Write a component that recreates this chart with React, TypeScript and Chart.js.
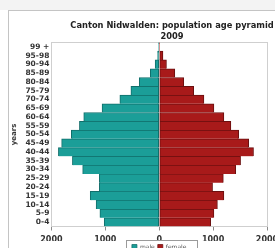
import { useEffect, useRef } from "react";
import { Chart, registerables } from "chart.js";
Chart.register(...registerables);

const ageGroups = ["0-4", "5-9", "10-14", "15-19", "20-24", "25-29", "30-34", "35-39", "40-44", "45-49", "50-54", "55-59", "60-64", "65-69", "70-74", "75-79", "80-84", "85-89", "90-94", "95-98", "99 +"];
const maleValues = [1020, 1100, 1170, 1280, 1110, 1110, 1420, 1610, 1870, 1810, 1630, 1480, 1400, 1060, 730, 525, 370, 165, 75, 30, 10];
const femaleValues = [955, 1015, 1080, 1200, 990, 1190, 1420, 1510, 1750, 1660, 1475, 1330, 1200, 1015, 830, 640, 455, 290, 135, 70, 8];
const seriesNames = ["male", "female"];
const titleLines = ["Canton Nidwalden: population age pyramid", "2009"];
const yAxisTitle = "years";
const xMin = -2000;
const xMax = 2000;
const xStep = 1000;

const FONT = "'DejaVu Sans', sans-serif";

const plotFrame = {
  id: "plotFrame",
  beforeDatasetsDraw(chart: any) {
    const { ctx, chartArea: a } = chart;
    ctx.save();
    ctx.strokeStyle = "#cfcfcf";
    ctx.lineWidth = 1;
    ctx.strokeRect(Math.round(a.left) + 0.5, Math.round(a.top) + 0.5, Math.round(a.right - a.left), Math.round(a.bottom - a.top));
    ctx.restore();
  },
};

const legendBox = {
  id: "legendBox",
  afterDraw(chart: any) {
    const lg = chart.legend;
    if (!lg || !lg.legendHitBoxes || !lg.legendHitBoxes.length) return;
    const hb = lg.legendHitBoxes;
    let l = Infinity, r = -Infinity, t = Infinity;
    hb.forEach((h: any) => {
      l = Math.min(l, h.left);
      r = Math.max(r, h.left + h.width);
      t = Math.min(t, h.top);
    });
    const { ctx } = chart;
    ctx.save();
    ctx.strokeStyle = "#9a9a9a";
    ctx.lineWidth = 1;
    ctx.strokeRect(Math.round(l - 6) + 0.5, Math.round(t - 4) + 0.5, Math.round(r - l + 16), 40);
    ctx.restore();
  },
};

export default function App() {
  const ref = useRef<HTMLCanvasElement | null>(null);
  useEffect(() => {
    if (!ref.current) return;
    const chart = new Chart(ref.current, {
      type: "bar",
      data: {
        labels: ageGroups,
        datasets: [
          {
            label: seriesNames[0],
            data: maleValues.map((v) => -v),
            backgroundColor: "#1b9e98",
            borderColor: "#116e6a",
            borderWidth: { top: 1, bottom: 0, left: 1, right: 1 },
            borderSkipped: false,
            barPercentage: 1,
            categoryPercentage: 1,
          },
          {
            label: seriesNames[1],
            data: femaleValues,
            backgroundColor: "#a81a1a",
            borderColor: "#6a0f0f",
            borderWidth: { top: 1, bottom: 0, left: 1, right: 1 },
            borderSkipped: false,
            barPercentage: 1,
            categoryPercentage: 1,
          },
        ],
      },
      options: {
        indexAxis: "y",
        responsive: false,
        animation: false,
        devicePixelRatio: 1,
        layout: { padding: { left: 8, right: 0, top: 0, bottom: 0 } },
        plugins: {
          title: {
            display: true,
            text: titleLines,
            color: "#222",
            font: { family: FONT, size: 8.3, weight: "bold", lineHeight: 1.35 },
            padding: { top: 20, bottom: 0 },
          },
          legend: {
            display: true,
            position: "bottom",
            fullSize: false,
            labels: {
              boxWidth: 5,
              boxHeight: 5,
              padding: 3,
              color: "#555",
              font: { family: FONT, size: 6 },
            },
          },
          tooltip: { enabled: false },
        },
        scales: {
          x: {
            type: "linear",
            stacked: true,
            min: xMin,
            max: xMax,
            ticks: {
              stepSize: xStep,
              padding: 9.5,
              color: "#333",
              font: { family: FONT, size: 8, weight: "bold", lineHeight: 0.1 },
              callback: (v: any) => String(Math.abs(Number(v))),
            },
            grid: { display: true, drawOnChartArea: false, drawTicks: true, tickLength: 4, color: "#8a8a8a" },
            border: { display: true, color: "#8a8a8a" },
            afterFit: (scale: any) => {
              scale.height = 14.5;
            },
          },
          y: {
            type: "category",
            stacked: true,
            reverse: true,
            ticks: {
              autoSkip: false,
              padding: 2,
              color: "#333",
              font: { family: FONT, size: 7.5, weight: "bold" },
            },
            grid: { display: false, drawTicks: false },
            border: { display: true, color: "#cfcfcf" },
            title: {
              display: true,
              text: yAxisTitle,
              color: "#333",
              font: { family: FONT, size: 7, weight: "bold" },
              padding: { top: 2, bottom: 5 },
            },
          },
          rightSpace: {
            type: "linear",
            position: "right",
            display: true,
            ticks: { display: false },
            grid: { display: false, drawTicks: false },
            border: { display: false },
            afterFit: (scale: any) => {
              scale.width = 69;
            },
          },
        },
      },
      plugins: [plotFrame, legendBox],
    } as any);
    return () => chart.destroy();
  }, []);

  return (
    <div style={{ position: "absolute", left: 0, top: 0, width: 275, height: 248, overflow: "hidden", background: "#ffffff" }}>
      <div style={{ position: "absolute", left: 0, top: 0, width: 275, height: 10, background: "#f3f3f3" }} />
      <div style={{ position: "absolute", left: 8, top: 10, width: 400, height: 400, borderLeft: "1px solid #c4c4c4", borderTop: "1px solid #c4c4c4" }} />
      <canvas ref={ref} width={336} height={260} style={{ position: "absolute", left: 0, top: 0 }} />
    </div>
  );
}
